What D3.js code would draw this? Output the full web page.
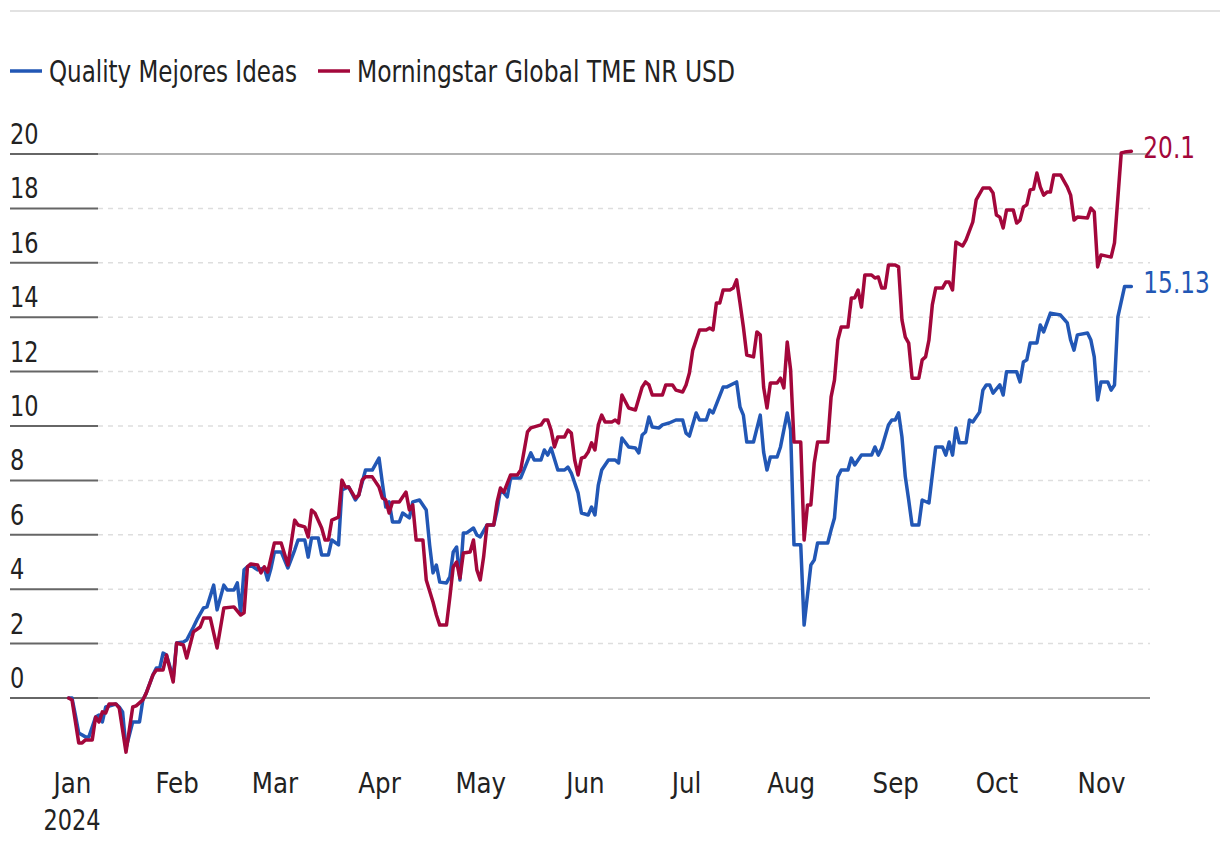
<!DOCTYPE html>
<html><head><meta charset="utf-8">
<script src="https://cdn.jsdelivr.net/npm/d3@7"></script>
<style>
html,body{margin:0;padding:0;background:#fff;}
svg text{font-family:"Liberation Sans Narrow","Arial Narrow","DejaVu Sans Condensed",sans-serif;fill:#222;}
</style></head><body>
<svg id="chart" width="1220" height="852"></svg>
<script>
const seriesNames = ["Quality Mejores Ideas", "Morningstar Global TME NR USD"];
const seriesColors = ["#2257b5", "#a3073b"];
const yTicks = [0, 2, 4, 6, 8, 10, 12, 14, 16, 18, 20];
const monthTicks = ["2024-01-01","2024-02-01","2024-03-01","2024-04-01","2024-05-01","2024-06-01","2024-07-01","2024-08-01","2024-09-01","2024-10-01","2024-11-01"];
const yearLabel = "2024";
const endLabels = ["15.13", "20.1"];

const qmiDates = [
"2023-12-31","2024-01-01","2024-01-02","2024-01-03","2024-01-05","2024-01-06","2024-01-08","2024-01-09","2024-01-10","2024-01-11","2024-01-14","2024-01-15","2024-01-16","2024-01-17","2024-01-19","2024-01-21","2024-01-22","2024-01-23","2024-01-25","2024-01-26","2024-01-27","2024-01-28","2024-01-29","2024-01-31",
"2024-02-01","2024-02-03","2024-02-04","2024-02-06","2024-02-07","2024-02-09","2024-02-10","2024-02-12","2024-02-13","2024-02-15","2024-02-16","2024-02-18","2024-02-19","2024-02-20","2024-02-21","2024-02-22","2024-02-23","2024-02-25","2024-02-27","2024-02-28","2024-02-29",
"2024-03-01","2024-03-03","2024-03-05","2024-03-07","2024-03-08","2024-03-10","2024-03-11","2024-03-12","2024-03-14","2024-03-15","2024-03-17","2024-03-18","2024-03-20","2024-03-21","2024-03-23","2024-03-25","2024-03-26","2024-03-28","2024-03-30",
"2024-04-01","2024-04-02","2024-04-03","2024-04-04","2024-04-05","2024-04-07","2024-04-08","2024-04-10","2024-04-11","2024-04-13","2024-04-15","2024-04-16","2024-04-17","2024-04-18","2024-04-19","2024-04-21","2024-04-22","2024-04-23","2024-04-24","2024-04-25","2024-04-26","2024-04-27","2024-04-29","2024-04-30",
"2024-05-01","2024-05-03","2024-05-05","2024-05-06","2024-05-07","2024-05-08","2024-05-09","2024-05-10","2024-05-13","2024-05-16","2024-05-17","2024-05-19","2024-05-20","2024-05-21","2024-05-22","2024-05-24","2024-05-26","2024-05-27","2024-05-28","2024-05-30","2024-05-31",
"2024-06-02","2024-06-03","2024-06-04","2024-06-05","2024-06-06","2024-06-08","2024-06-10","2024-06-11","2024-06-12","2024-06-14","2024-06-16","2024-06-17","2024-06-18","2024-06-19","2024-06-20","2024-06-21","2024-06-23","2024-06-24","2024-06-26","2024-06-28","2024-06-30",
"2024-07-01","2024-07-02","2024-07-04","2024-07-05","2024-07-07","2024-07-08","2024-07-09","2024-07-12","2024-07-13","2024-07-16","2024-07-17","2024-07-18","2024-07-19","2024-07-21","2024-07-23","2024-07-24","2024-07-25","2024-07-26","2024-07-28","2024-07-29","2024-07-31",
"2024-08-01","2024-08-02","2024-08-04","2024-08-05","2024-08-07","2024-08-08","2024-08-09","2024-08-12","2024-08-13","2024-08-14","2024-08-15","2024-08-16","2024-08-18","2024-08-19","2024-08-20","2024-08-22","2024-08-25","2024-08-26","2024-08-27","2024-08-28","2024-08-30","2024-08-31",
"2024-09-01","2024-09-02","2024-09-03","2024-09-04","2024-09-05","2024-09-06","2024-09-08","2024-09-09","2024-09-11","2024-09-13","2024-09-15","2024-09-16","2024-09-17","2024-09-18","2024-09-19","2024-09-20","2024-09-22","2024-09-23","2024-09-24","2024-09-26","2024-09-27","2024-09-28","2024-09-29","2024-09-30",
"2024-10-02","2024-10-03","2024-10-04","2024-10-07","2024-10-08","2024-10-09","2024-10-10","2024-10-11","2024-10-13","2024-10-14","2024-10-15","2024-10-17","2024-10-20","2024-10-22","2024-10-23","2024-10-24","2024-10-25","2024-10-28","2024-10-29","2024-10-30","2024-10-31",
"2024-11-01","2024-11-03","2024-11-04","2024-11-05","2024-11-06","2024-11-08","2024-11-10"];
const qmiValues = [
0,0,-0.63,-1.29,-1.43,-1.43,-0.70,-0.63,-0.88,-0.33,-0.22,-0.33,-0.51,-1.85,-0.88,-0.88,-0.07,0.18,0.85,1.10,1.10,1.65,1.58,0.74,
2.02,2.06,2.13,2.61,2.87,3.31,3.35,4.15,3.24,4.15,3.97,3.97,4.23,3.13,4.71,4.82,4.89,4.71,4.78,4.34,4.78,
5.37,5.37,4.78,5.44,5.81,5.81,5.18,5.88,5.88,5.26,5.26,5.81,5.63,7.65,7.76,7.28,7.46,8.38,8.38,
8.82,7.90,7.02,7.21,6.47,6.47,6.80,6.62,7.21,7.28,6.91,5.63,4.60,4.89,4.26,4.23,4.45,5.37,5.55,4.34,6.07,6.07,6.25,5.99,
5.92,6.36,6.36,6.91,7.65,7.54,7.39,8.09,8.09,9.01,8.75,8.75,9.12,8.93,9.19,8.38,8.38,8.49,8.27,7.54,6.80,
6.73,7.02,6.73,7.83,8.38,8.75,8.75,8.64,9.56,9.23,9.19,9.01,9.67,9.78,10.33,9.96,9.93,10.04,10.11,10.22,10.22,
9.74,9.63,10.48,10.22,10.22,10.59,10.48,11.43,11.43,11.62,10.70,10.40,9.41,9.41,10.40,9.04,8.38,8.86,8.86,9.23,10.48,
9.85,5.63,5.63,2.68,4.89,5.07,5.70,5.70,6.18,6.62,8.13,8.38,8.38,8.82,8.57,8.93,8.93,9.23,8.93,9.19,10.04,10.22,
10.22,10.48,9.60,8.13,7.28,6.36,6.36,7.28,7.17,9.23,9.23,8.93,9.41,8.93,9.93,9.38,9.38,10.22,10.15,10.51,11.32,11.51,11.51,11.21,
11.51,11.14,11.99,11.99,11.62,12.35,12.43,13.05,13.05,13.71,13.46,14.15,14.08,13.79,13.16,12.79,13.35,13.42,13.16,12.54,10.96,
11.62,11.62,11.32,11.51,14.01,15.13,15.13];

const msDates = [
"2023-12-31","2024-01-01","2024-01-03","2024-01-04","2024-01-05","2024-01-07","2024-01-08","2024-01-09","2024-01-10","2024-01-11","2024-01-12","2024-01-14","2024-01-15","2024-01-17","2024-01-19","2024-01-20","2024-01-22","2024-01-23","2024-01-25","2024-01-26","2024-01-28","2024-01-29","2024-01-31",
"2024-02-01","2024-02-03","2024-02-04","2024-02-06","2024-02-08","2024-02-09","2024-02-11","2024-02-13","2024-02-15","2024-02-18","2024-02-20","2024-02-21","2024-02-22","2024-02-23","2024-02-25","2024-02-26","2024-02-27","2024-02-28",
"2024-03-01","2024-03-03","2024-03-05","2024-03-07","2024-03-08","2024-03-10","2024-03-11","2024-03-12","2024-03-13","2024-03-15","2024-03-16","2024-03-17","2024-03-18","2024-03-20","2024-03-21","2024-03-22","2024-03-23","2024-03-25","2024-03-26","2024-03-27","2024-03-28","2024-03-30",
"2024-04-01","2024-04-02","2024-04-03","2024-04-04","2024-04-05","2024-04-07","2024-04-09","2024-04-10","2024-04-11","2024-04-12","2024-04-14","2024-04-15","2024-04-17","2024-04-18","2024-04-19","2024-04-21","2024-04-22","2024-04-23","2024-04-24","2024-04-25","2024-04-26","2024-04-28","2024-04-29","2024-04-30",
"2024-05-01","2024-05-02","2024-05-03","2024-05-05","2024-05-06","2024-05-07","2024-05-08","2024-05-10","2024-05-12","2024-05-13","2024-05-15","2024-05-16","2024-05-19","2024-05-20","2024-05-21","2024-05-22","2024-05-23","2024-05-24","2024-05-26","2024-05-27","2024-05-28","2024-05-29","2024-05-30","2024-05-31",
"2024-06-01","2024-06-02","2024-06-03","2024-06-04","2024-06-05","2024-06-06","2024-06-07","2024-06-09","2024-06-10","2024-06-11","2024-06-12","2024-06-14","2024-06-16","2024-06-18","2024-06-19","2024-06-20","2024-06-21","2024-06-24","2024-06-25","2024-06-27","2024-06-28","2024-06-30",
"2024-07-01","2024-07-02","2024-07-03","2024-07-05","2024-07-07","2024-07-08","2024-07-09","2024-07-10","2024-07-11","2024-07-12","2024-07-14","2024-07-15","2024-07-16","2024-07-17","2024-07-18","2024-07-19","2024-07-21","2024-07-22","2024-07-23","2024-07-24","2024-07-25","2024-07-26","2024-07-28","2024-07-29","2024-07-30","2024-07-31",
"2024-08-01","2024-08-02","2024-08-04","2024-08-05","2024-08-06","2024-08-07","2024-08-08","2024-08-09","2024-08-12","2024-08-13","2024-08-14","2024-08-15","2024-08-16","2024-08-18","2024-08-19","2024-08-20","2024-08-21","2024-08-22","2024-08-23","2024-08-25","2024-08-26","2024-08-27","2024-08-28","2024-08-29","2024-08-30",
"2024-09-01","2024-09-02","2024-09-03","2024-09-04","2024-09-05","2024-09-06","2024-09-08","2024-09-09","2024-09-10","2024-09-11","2024-09-12","2024-09-13","2024-09-15","2024-09-16","2024-09-17","2024-09-18","2024-09-19","2024-09-21","2024-09-22","2024-09-24","2024-09-25","2024-09-27","2024-09-29","2024-09-30",
"2024-10-01","2024-10-02","2024-10-03","2024-10-04","2024-10-06","2024-10-07","2024-10-08","2024-10-09","2024-10-10","2024-10-11","2024-10-12","2024-10-13","2024-10-14","2024-10-15","2024-10-16","2024-10-17","2024-10-18","2024-10-20","2024-10-22","2024-10-23","2024-10-24","2024-10-25","2024-10-28","2024-10-29","2024-10-30","2024-10-31",
"2024-11-01","2024-11-04","2024-11-05","2024-11-07","2024-11-08","2024-11-10"];
const msValues = [
0,-0.07,-1.65,-1.65,-1.54,-1.54,-0.70,-0.88,-0.51,-0.55,-0.22,-0.22,-0.37,-1.99,-0.33,-0.29,-0.07,0.18,0.85,1.03,1.03,1.58,0.59,
2.02,1.95,1.47,2.43,2.61,2.94,2.94,1.84,3.31,3.35,3.05,3.13,4.82,4.93,4.89,4.60,4.82,4.63,
5.70,5.70,4.89,6.54,6.36,6.29,5.92,6.91,6.80,6.25,5.81,5.81,6.54,6.65,8.01,7.76,7.76,7.35,7.46,8.01,8.13,8.13,
7.76,7.35,7.28,6.80,7.21,7.21,7.57,6.91,7.10,5.81,5.81,4.34,3.53,3.05,2.68,2.68,3.71,4.82,5.00,4.41,5.33,5.37,5.81,4.71,
4.34,5.18,6.36,6.36,7.21,7.72,7.57,8.20,8.20,8.38,9.78,9.93,10.04,10.22,10.22,9.85,9.23,9.60,9.60,9.85,9.74,8.75,8.20,8.82,
8.86,9.04,9.38,9.12,10.04,10.40,10.15,10.15,10.22,10.11,11.14,10.66,10.59,11.43,11.62,11.51,11.14,11.14,11.51,11.51,11.32,11.25,
11.51,11.95,12.79,13.53,13.53,13.60,13.53,14.52,14.52,15.00,15.00,15.07,15.37,14.52,13.64,12.61,12.54,13.46,13.35,11.43,10.66,11.58,11.58,11.76,11.40,13.09,
12.06,9.41,9.41,5.81,7.10,7.10,8.64,9.41,9.41,11.07,11.69,13.16,13.64,13.64,14.71,14.71,15.00,14.37,15.55,15.55,15.44,15.48,15.07,15.07,15.92,
15.92,15.85,13.90,13.27,13.05,11.76,11.76,12.43,12.54,13.16,14.45,15.07,15.07,15.29,15.29,15.00,16.76,16.62,16.84,17.50,18.31,18.75,18.75,18.57,
17.76,17.68,17.28,17.94,17.94,17.46,17.57,18.05,18.13,18.68,18.71,19.30,18.79,18.49,18.60,18.60,19.23,19.23,18.79,18.49,17.57,17.68,17.65,18.01,17.87,15.85,
16.29,16.21,16.73,20.04,20.07,20.10];

const parse = d3.utcParse("%Y-%m-%d");
const qmi = qmiDates.map((d, i) => ({date: parse(d), value: qmiValues[i]}));
const ms = msDates.map((d, i) => ({date: parse(d), value: msValues[i]}));

const svg = d3.select("#chart");
const x = d3.scaleUtc().domain([parse("2024-01-01"), parse("2024-11-01")]).range([72, 1101]);
const y = d3.scaleLinear().domain([0, 20]).range([698, 154]);
const gridLeft = 98, gridRight = 1150, labelLeft = 10;

// squeeze text horizontally to mimic a condensed face
function condense(sel, f) {
  sel.each(function () {
    const w = this.getComputedTextLength();
    d3.select(this).attr("textLength", w * f).attr("lengthAdjust", "spacingAndGlyphs");
  });
}

// top rule
svg.append("line").attr("x1", 10).attr("x2", 1220).attr("y1", 11).attr("y2", 11)
  .attr("stroke", "#e2e2e2").attr("stroke-width", 2);

// legend
const legend = svg.append("g");
const legendX = [10, 318];
const legendW = [248, 378];
seriesNames.forEach((n, i) => {
  legend.append("line").attr("x1", legendX[i]).attr("x2", legendX[i] + 32).attr("y1", 71).attr("y2", 71)
    .attr("stroke", seriesColors[i]).attr("stroke-width", 3.5);
  legend.append("text").attr("x", legendX[i] + 39).attr("y", 82).attr("font-size", 31)
    .attr("textLength", legendW[i]).attr("lengthAdjust", "spacingAndGlyphs").text(n);
});

// y grid, ticks and labels
const yg = svg.append("g");
yTicks.forEach(t => {
  const yy = y(t);
  const solid = (t === 0 || t === 20);
  yg.append("line").attr("x1", gridLeft).attr("x2", gridRight).attr("y1", yy).attr("y2", yy)
    .attr("stroke", solid ? "#666" : "#dedede")
    .attr("stroke-width", t === 0 ? 1.6 : (t === 20 ? 1.2 : 1.5))
    .attr("stroke-dasharray", solid ? null : "5,5");
  yg.append("line").attr("x1", labelLeft).attr("x2", gridLeft).attr("y1", yy).attr("y2", yy)
    .attr("stroke", "#666").attr("stroke-width", 2);
  yg.append("text").attr("class", "num").attr("x", labelLeft).attr("y", yy - 10).attr("font-size", 29).text(d3.format("d")(t));
});

// x axis
const xAxis = d3.axisBottom(x).tickValues(monthTicks.map(parse)).tickFormat(d3.utcFormat("%b")).tickSize(0).tickPadding(0);
const xg = svg.append("g").attr("transform", "translate(0,793)").call(xAxis);
xg.select(".domain").remove();
xg.attr("font-family", null).attr("font-size", null);
xg.selectAll("text").attr("y", 0).attr("dy", 0).attr("font-size", 29).style("fill", "#222");
svg.append("text").attr("class", "num").attr("x", x(parse(monthTicks[0]))).attr("y", 830).attr("text-anchor", "middle")
  .attr("font-size", 29).text(yearLabel);

// lines
const line = d3.line().x(d => x(d.date)).y(d => y(d.value));
[qmi, ms].forEach((s, i) => {
  svg.append("path").datum(s).attr("d", line).attr("fill", "none")
    .attr("stroke", seriesColors[i]).attr("stroke-width", 3.5)
    .attr("stroke-linejoin", "round").attr("stroke-linecap", "round");
});

// end labels
[qmi, ms].forEach((s, i) => {
  const last = s[s.length - 1];
  svg.append("text").attr("class", "num").attr("x", x(last.date) + 12).attr("y", y(last.value) + 7)
    .attr("font-size", 30).style("fill", seriesColors[i]).text(endLabels[i]);
});

condense(svg.selectAll("text.num"), 0.86);
condense(xg.selectAll("text"), 0.94);
</script>
</body></html>
